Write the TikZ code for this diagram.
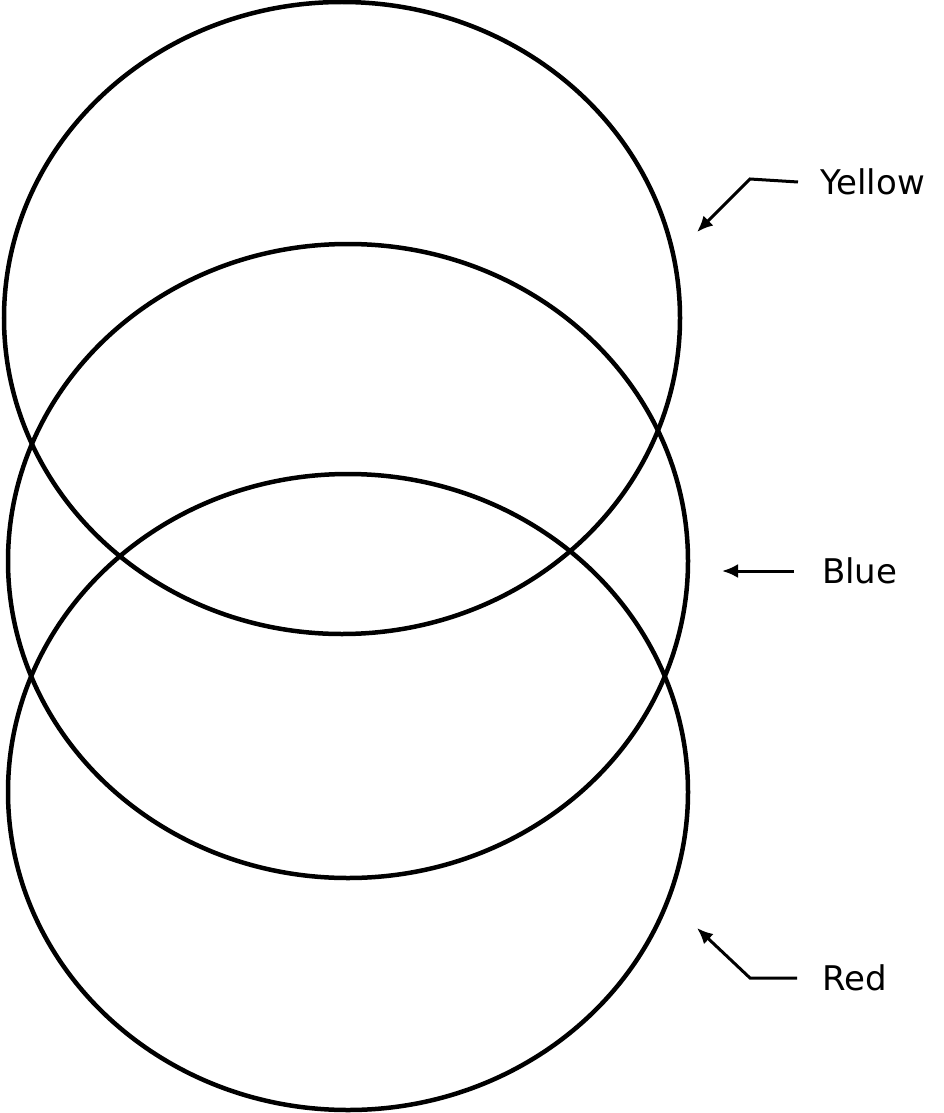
\documentclass[tikz,border=0pt]{standalone}
\usepackage{fontspec}
\setmainfont{DejaVu Sans}
\begin{document}
\begin{tikzpicture}[x=1pt,y=-1pt,
  ring/.style={line width=4.5pt},
  lbl/.style={font=\fontsize{34}{40}\selectfont, anchor=west, inner sep=0pt},
  ptr/.style={line width=3pt,-{Latex[length=16pt,width=14pt]}}]
\usetikzlibrary{arrows.meta}
\useasboundingbox (0,0) rectangle (943,1113);
\draw[ring] (342,318) ellipse [x radius=338, y radius=316];
\draw[ring] (348,561) ellipse [x radius=340, y radius=317];
\draw[ring] (348,792) ellipse [x radius=340, y radius=318];
\node[lbl] (y) at (820,182) {Yellow};
\node[lbl] (b) at (822,571) {Blue};
\node[lbl] (r) at (822,978) {Red};
\coordinate (yk) at (750,179);
\coordinate (yt) at (697,232);
\coordinate (bt) at (722,571);
\coordinate (rk) at (750,978);
\coordinate (rt) at (697,928);
\draw[ptr] ([xshift=-22pt]y.west) -- (yk) -- (yt);
\draw[ptr] ([xshift=-28pt]b.west) -- (bt);
\draw[ptr] ([xshift=-25pt]r.west) -- (rk) -- (rt);
\end{tikzpicture}
\end{document}
